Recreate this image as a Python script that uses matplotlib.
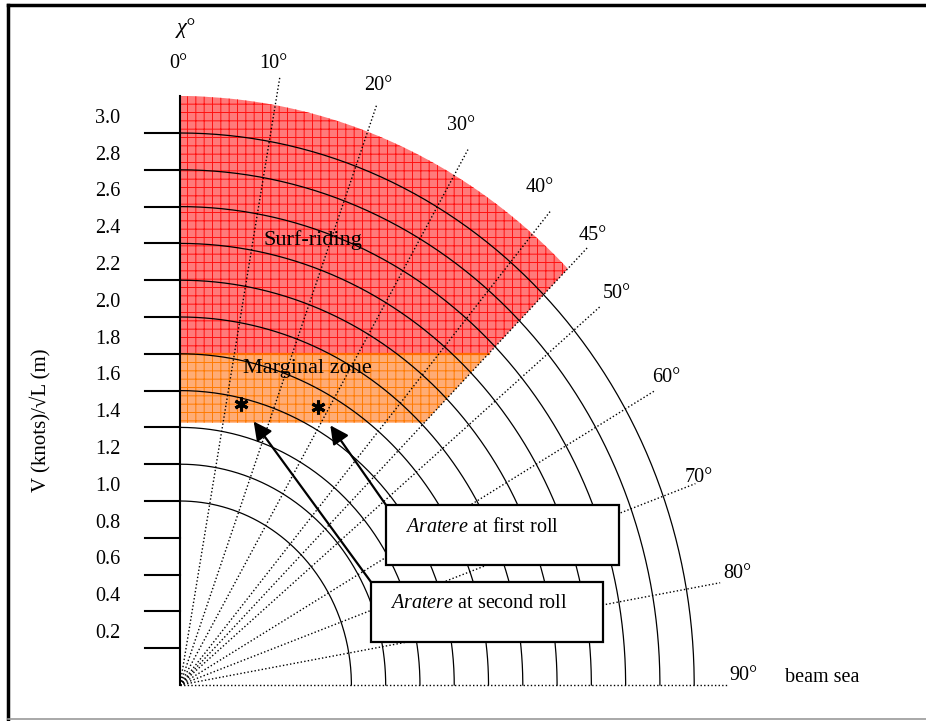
import numpy as np
import matplotlib
matplotlib.use("Agg")
import matplotlib.pyplot as plt
from matplotlib.patches import Polygon, Rectangle
from matplotlib.lines import Line2D

plt.rcParams["font.family"] = ["Liberation Serif", "DejaVu Serif"]
plt.rcParams["mathtext.fontset"] = "custom"
plt.rcParams["mathtext.rm"] = "Liberation Serif"
plt.rcParams["mathtext.it"] = "Liberation Serif:italic"
plt.rcParams["hatch.linewidth"] = 0.7

# speed ratio V/sqrt(L) axis
speed_ticks = [0.2, 0.4, 0.6, 0.8, 1.0, 1.2, 1.4, 1.6, 1.8, 2.0, 2.2, 2.4, 2.6, 2.8, 3.0]
tick_labels = ["0.2", "0.4", "0.6", "0.8", "1.0", "1.2", "1.4", "1.6", "1.8", "2.0",
               "2.2", "2.4", "2.6", "2.8", "3.0"]
arc_radii = [1.0, 1.2, 1.4, 1.6, 1.8, 2.0, 2.2, 2.4, 2.6, 2.8, 3.0]

# heading angle chi (deg from following sea)
heading_angles = [10, 20, 30, 40, 45, 50, 60, 70, 80, 90]
heading_labels = ["0°", "10°", "20°", "30°", "40°", "45°", "50°", "60°", "70°", "80°", "90°"]

# zones
zone_max_angle = 45
surf_lower = 1.8
surf_outer = 3.2
marginal_lower = 1.425

# Aratere rolls: (chi deg, speed ratio)
first_roll = (28.0, 1.71)
second_roll = (13.0, 1.57)

# pixel scale of the drawing (vertical slightly stretched)
SX, SY = 171.4, 184.0
W, H = 926, 721
OX, OY = 180, 685


def px(x, y):
    """pixel position of the picture -> data units"""
    return (x - OX) / SX, (OY - y) / SY


def polar(chi, r):
    c = np.radians(chi)
    return r * np.sin(c), r * np.cos(c)


fig = plt.figure(figsize=(W / 100, H / 100), dpi=100)
ax = fig.add_axes([0, 0, 1, 1])
ax.set_xlim(-OX / SX, (W - OX) / SX)
ax.set_ylim(-(H - OY) / SY, OY / SY)
ax.axis("off")

# surf-riding zone
t = np.linspace(0, zone_max_angle, 100)
ax_, ay_ = polar(t, surf_outer)
red_pts = [(0, surf_lower)] + list(zip(ax_, ay_)) + [(surf_lower, surf_lower)]
ax.add_patch(Polygon(red_pts, closed=True, facecolor="#ff7a7a", edgecolor="#ff1010",
                     hatch="++", linewidth=0, zorder=1))

# marginal zone
orange_pts = [(0, marginal_lower), (0, surf_lower), (surf_lower, surf_lower),
              (marginal_lower, marginal_lower)]
ax.add_patch(Polygon(orange_pts, closed=True, facecolor="#ffac75", edgecolor="#ff7a00",
                     hatch="++", linewidth=0, zorder=1))
ax.plot([0, surf_lower], [surf_lower, surf_lower], color="#ff6a00", lw=1.6, zorder=1.5)

# speed arcs
t = np.linspace(0, 90, 200)
for r in arc_radii:
    x, y = polar(t, r)
    ax.plot(x, y, color="black", lw=0.9, zorder=2)

# heading rays
for chi in heading_angles:
    length = 3.36 if chi <= 45 else 3.2
    x, y = polar(chi, length)
    ax.plot([0, x], [0, y], color="black", lw=1.0, ls=(0, (1, 1.6)), zorder=2)

# vertical axis and ticks
ax.plot([0, 0], [0, surf_outer], color="black", lw=1.5, zorder=3)
tick_len = 35 / SX
for r, lab in zip(speed_ticks, tick_labels):
    ax.plot([-tick_len, 0], [r, r], color="black", lw=1.5, zorder=3)
    ax.text(-0.42, r + 0.08, lab, ha="center", va="center", fontsize=14.5)

# heading labels
label_px = [(178, 63), (273, 63), (378, 85), (461, 125), (540, 187), (593, 236),
            (617, 293), (666, 377), (699, 477), (737, 573), (743, 676)]
for lab, p in zip(heading_labels, label_px):
    ax.text(*px(*p), lab, ha="center", va="center", fontsize=14.5)

ax.text(*px(186, 28), "χ°", ha="center", va="center", fontsize=16, style="italic")
ax.text(*px(822, 677), "beam sea", ha="center", va="center", fontsize=14.5)
ax.text(*px(40, 420), "V (knots)/√L (m)", rotation=90, ha="center", va="center", fontsize=15)
ax.text(*px(313, 240), "Surf-riding", ha="center", va="center", fontsize=16, zorder=4)
ax.text(*px(307, 369), "Marginal zone", ha="center", va="center", fontsize=16, zorder=4)

# roll points
for chi, r in [first_roll, second_roll]:
    x, y = polar(chi, r)
    ax.plot(x, y, marker=(6, 2, 0), ms=10, mew=2.2, color="black", zorder=5)

# annotation boxes
boxes = [(px(386, 565), px(619, 505), r"$\mathit{Aratere}$ at first roll", px(405, 528), first_roll),
         (px(371, 642), px(603, 582), r"$\mathit{Aratere}$ at second roll", px(390, 604), second_roll)]
for (x0, y0), (x1, y1), txt, tpos, roll in boxes:
    ax.add_patch(Rectangle((x0, y0), x1 - x0, y1 - y0, facecolor="white",
                           edgecolor="black", lw=1.6, zorder=6))
    ax.text(*tpos, txt, ha="left", va="center", fontsize=14.5, zorder=7)
    ax.annotate("", xy=polar(*roll), xytext=(x0, y1),
                arrowprops=dict(arrowstyle="-|>,head_length=0.55,head_width=0.28",
                                color="black", lw=1.6, mutation_scale=20,
                                shrinkA=0, shrinkB=16),
                zorder=6)

# outer frame
fig.add_artist(Line2D([8 / W, 8 / W], [1 - 5 / H, 1 - 719 / H], color="black", lw=2.5))
fig.add_artist(Line2D([8 / W, 1], [1 - 5 / H, 1 - 5 / H], color="black", lw=2.5))
fig.add_artist(Line2D([8 / W, 1], [1 - 719 / H, 1 - 719 / H], color="#999999", lw=1.2))

fig.savefig("out.png", dpi=100)
